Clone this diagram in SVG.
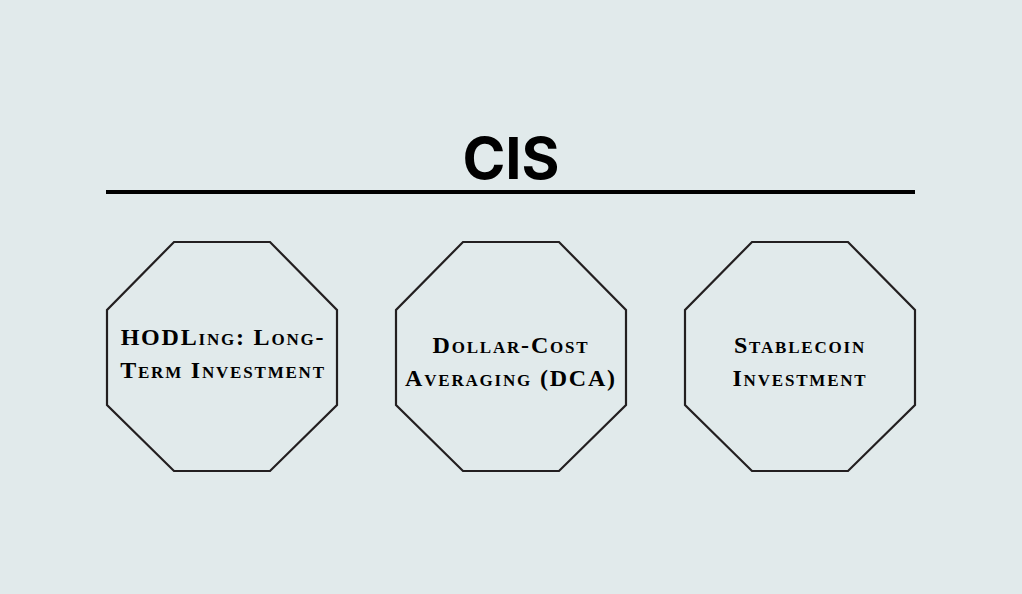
<svg xmlns="http://www.w3.org/2000/svg" width="1022" height="594" viewBox="0 0 1022 594">
<style>
.oct{fill:none;stroke:#231f20;stroke-width:2.2}
.lbl{font-family:"Liberation Serif",serif;font-weight:bold;font-size:24px;font-variant:small-caps;fill:#000;text-anchor:middle;letter-spacing:1.8px}
.title{font-family:Inter,"Liberation Sans",sans-serif;font-weight:bold;font-size:58px;fill:#000;text-anchor:middle}
</style>
<rect width="1022" height="594" fill="#e1eaeb"/>
<g id="title">
<text class="title" x="511" y="179">CIS</text>
<line x1="106" y1="192" x2="915" y2="192" stroke="#000" stroke-width="4"/>
</g>
<g id="connectors"></g>
<g id="node1">
<polygon class="oct" points="174,242 270,242 337,310 337,405 270,471 174,471 107,405 107,310"/>
<text class="lbl" x="223" y="345">HODLing: Long-</text>
<text class="lbl" x="223" y="378">Term Investment</text>
</g>
<g id="node2">
<polygon class="oct" points="463,242 559,242 626,310 626,405 559,471 463,471 396,405 396,310"/>
<text class="lbl" x="511" y="353">Dollar-Cost</text>
<text class="lbl" x="511" y="386">Averaging (DCA)</text>
</g>
<g id="node3">
<polygon class="oct" points="752,242 848,242 915,310 915,405 848,471 752,471 685,405 685,310"/>
<text class="lbl" x="800" y="353">Stablecoin</text>
<text class="lbl" x="800" y="386">Investment</text>
</g>
</svg>
